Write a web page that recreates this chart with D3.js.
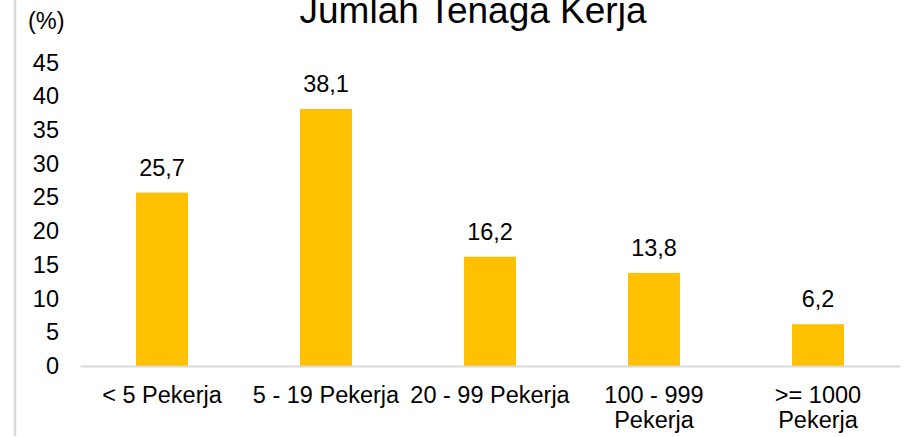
<!DOCTYPE html>
<html>
<head>
<meta charset="utf-8">
<script src="https://cdn.jsdelivr.net/npm/d3@7"></script>
<style>
  html, body { margin: 0; padding: 0; background: #fff; }
  svg text { font-family: Arial, "Liberation Sans", sans-serif; fill: #000; }
</style>
</head>
<body>
<div id="chart"></div>
<script>
"use strict";

// data
const categories = ["< 5 Pekerja", "5 - 19 Pekerja", "20 - 99 Pekerja", "100 - 999\nPekerja", ">= 1000\nPekerja"];
const values = [25.7, 38.1, 16.2, 13.8, 6.2];
const yTicks = [0, 5, 10, 15, 20, 25, 30, 35, 40, 45];
const title = "Jumlah Tenaga Kerja";
const unitLabel = "(%)";

const width = 913, height = 437;
const x0 = 80, x1 = 900, yBase = 366, yTop = 62.5;
const fontSize = "23.5px";

const svg = d3.select("#chart").append("svg")
    .attr("width", width)
    .attr("height", height);

// grey frame line on the left edge
svg.append("line")
    .attr("x1", 15).attr("x2", 15)
    .attr("y1", 0).attr("y2", 436)
    .attr("stroke", "#d9d9d9")
    .attr("stroke-width", 2.5);

const xScale = d3.scaleBand().domain(categories).range([x0, x1]).paddingInner(0.683).paddingOuter(0.3415);
const yScale = d3.scaleLinear().domain([0, 45]).range([yBase, yTop]);

// title (cut at the top like the reference)
svg.append("text")
    .attr("x", 473)
    .attr("y", 23)
    .attr("text-anchor", "middle")
    .style("font-size", "37px")
    .text(title);

svg.append("text")
    .attr("x", 28)
    .attr("y", 29)
    .style("font-size", fontSize)
    .text(unitLabel);

// y axis labels only
const yAxis = d3.axisLeft(yScale).tickValues(yTicks).tickSize(0).tickPadding(0);
const yAxisGroup = svg.append("g")
    .attr("transform", "translate(59,0)")
    .call(yAxis);
yAxisGroup.select(".domain").remove();
yAxisGroup.selectAll("text")
    .style("font-size", fontSize)
    .style("font-family", "Arial, 'Liberation Sans', sans-serif")
    .attr("fill", "#000");

// bars
svg.selectAll("rect.bar")
    .data(values)
    .enter()
    .append("rect")
    .attr("class", "bar")
    .attr("x", (d, i) => xScale(categories[i]))
    .attr("y", d => yScale(d))
    .attr("width", xScale.bandwidth())
    .attr("height", d => yBase - yScale(d))
    .style("fill", "#ffc000");

// value labels
svg.selectAll("text.val")
    .data(values)
    .enter()
    .append("text")
    .attr("class", "val")
    .attr("x", (d, i) => xScale(categories[i]) + xScale.bandwidth() / 2)
    .attr("y", d => yScale(d) - 17)
    .attr("text-anchor", "middle")
    .style("font-size", fontSize)
    .text(d => d.toFixed(1).replace(".", ","));

// x axis baseline and labels
const xAxis = d3.axisBottom(xScale).tickSize(0).tickFormat("");
const xAxisGroup = svg.append("g")
    .attr("transform", "translate(0," + yBase + ")")
    .call(xAxis);
xAxisGroup.select(".domain")
    .attr("stroke", "#d9d9d9")
    .attr("stroke-width", 2);

categories.forEach((c, i) => {
    const t = svg.append("text")
        .attr("x", xScale(c) + xScale.bandwidth() / 2)
        .attr("y", 403)
        .attr("text-anchor", "middle")
        .style("font-size", fontSize);
    c.split("\n").forEach((line, j) => {
        t.append("tspan")
            .attr("x", xScale(c) + xScale.bandwidth() / 2)
            .attr("dy", j === 0 ? 0 : 25)
            .text(line);
    });
});
</script>
</body>
</html>
